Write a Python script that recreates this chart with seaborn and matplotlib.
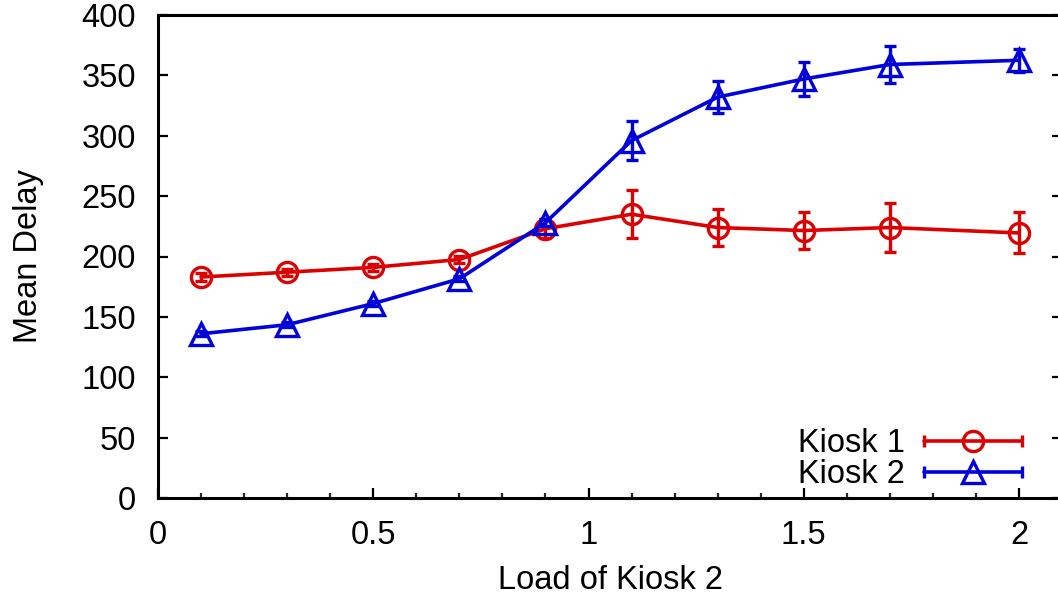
import numpy as np
import pandas as pd
import matplotlib
matplotlib.use("Agg")
import matplotlib.pyplot as plt
import seaborn as sns
from matplotlib.legend_handler import HandlerBase
from matplotlib.lines import Line2D
from matplotlib.ticker import MultipleLocator

# ---- data ----
load = [0.1, 0.3, 0.5, 0.7, 0.9, 1.1, 1.3, 1.5, 1.7, 2.0]
kiosk1_mean = [183, 187, 191, 197.5, 223, 235, 224, 221.5, 224, 219.5]
kiosk1_err = [3, 3, 3, 3, 8, 20, 15.5, 15, 20.5, 17]
kiosk2_mean = [136, 143.5, 161, 181.5, 228, 296, 332, 347, 359, 362.5]
kiosk2_err = [2, 2, 2, 2, 3, 16, 13, 14, 15, 9.5]
series_names = ["Kiosk 1", "Kiosk 2"]
x_ticks = [0, 0.5, 1, 1.5, 2]
x_tick_labels = ["0", "0.5", "1", "1.5", "2"]
y_ticks = [0, 50, 100, 150, 200, 250, 300, 350, 400]

RED = "#dd0000"
BLUE = "#0000dd"
FS = 23.5
LW = 2.6

sns.set_theme(style="white")
plt.rcParams["font.family"] = ["Liberation Sans", "DejaVu Sans"]
plt.rcParams["text.color"] = "black"

fig = plt.figure(figsize=(10.58, 5.98), dpi=100)
ax = fig.add_axes([158 / 1058, 1 - 498 / 598, 2.1 * 430.5 / 1058, (498 - 15) / 598])

specs = [
    (series_names[0], kiosk1_mean, kiosk1_err, RED, "o", 14.5),
    (series_names[1], kiosk2_mean, kiosk2_err, BLUE, "^", 16),
]
for name, mean, err, col, mk, ms in specs:
    df = pd.DataFrame({"load": load, "delay": mean})
    sns.lineplot(data=df, x="load", y="delay", color=col, lw=LW, marker=mk,
                 ms=ms, mfc="none", mec=col, mew=2.4, ax=ax, legend=False)
    ax.errorbar(load, mean, yerr=err, fmt="none", ecolor=col,
                elinewidth=2.4, capsize=4.5, capthick=2.4)

ax.set_xlim(0, 2.1)
ax.set_ylim(0, 400)
ax.set_xticks(x_ticks)
ax.set_xticklabels(x_tick_labels)
ax.set_yticks(y_ticks)
ax.xaxis.set_minor_locator(MultipleLocator(0.1))

ax.tick_params(axis="x", which="major", direction="in", length=7, width=1.6,
               labelsize=FS, pad=16, colors="black", bottom=True, top=False)
ax.tick_params(axis="x", which="minor", direction="in", length=3.5, width=1.6,
               bottom=True, top=False)
ax.tick_params(axis="y", which="major", direction="in", length=7, width=1.6,
               labelsize=FS, pad=16, colors="black", left=True, right=True)
for s in ax.spines.values():
    s.set_linewidth(2.2)
    s.set_color("black")

ax.set_xlabel("Load of Kiosk 2", fontsize=FS, labelpad=10, color="black")
ax.set_ylabel("Mean Delay", fontsize=FS, labelpad=27, color="black")


class ErrHandler(HandlerBase):
    def __init__(self, color, marker, ms):
        super().__init__()
        self.color = color
        self.marker = marker
        self.ms = ms

    def create_artists(self, legend, orig_handle, xdescent, ydescent,
                       width, height, fontsize, trans):
        y = height / 2 - ydescent
        x0 = -xdescent
        x1 = -xdescent + width
        line = Line2D([x0, x1], [y, y], color=self.color, lw=LW)
        caps = Line2D([x0, x1], [y, y], ls="none", marker="|", ms=9,
                      mew=2.4, color=self.color)
        mk = Line2D([(x0 + x1) / 2], [y], ls="none", marker=self.marker,
                    ms=self.ms, mfc="none", mec=self.color, mew=2.4)
        for a in (line, caps, mk):
            a.set_transform(trans)
        return [line, caps, mk]


h1 = Line2D([], [], label=series_names[0])
h2 = Line2D([], [], label=series_names[1])
ax.legend(handles=[h1, h2],
          handler_map={h1: ErrHandler(RED, "o", 14.5), h2: ErrHandler(BLUE, "^", 16)},
          loc="lower right", bbox_to_anchor=(1022 / 1058, 1 - 490 / 598),
          bbox_transform=fig.transFigure, frameon=False, borderpad=0,
          borderaxespad=0, markerfirst=False, handlelength=3.0,
          handletextpad=0.6, labelspacing=0.0, fontsize=FS)

fig.savefig("out.png", dpi=100)
